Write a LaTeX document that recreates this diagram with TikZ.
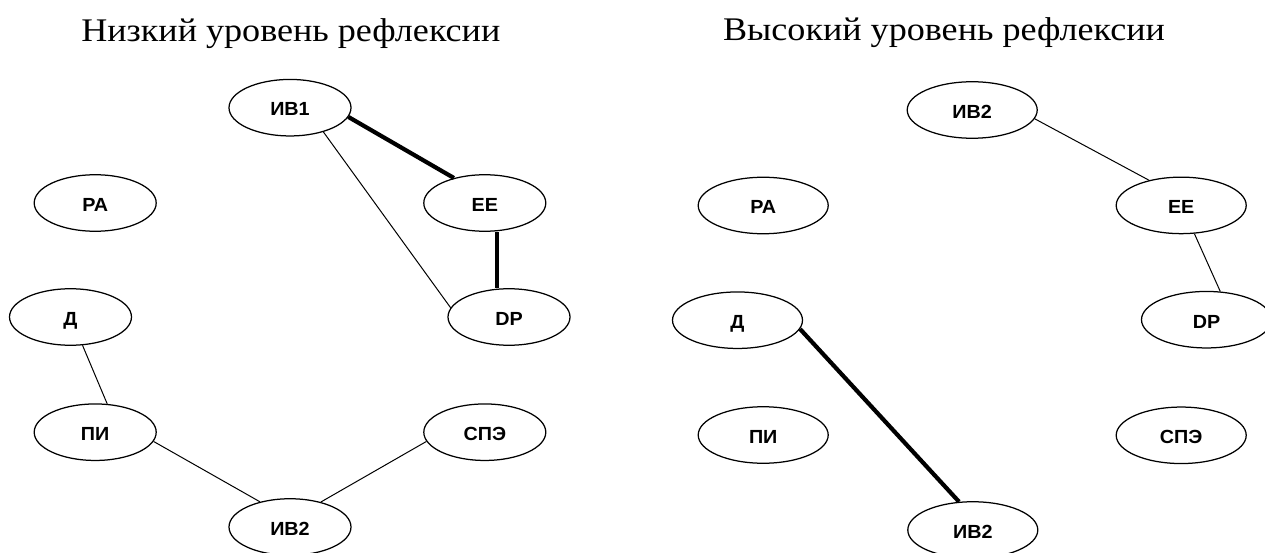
\documentclass[tikz,border=0pt]{standalone}
\usepackage{fontspec}
\setmainfont{Liberation Serif}
\newfontfamily\ttlfont{Liberation Serif}[FakeStretch=1.094]
\newfontfamily\nodefont{Liberation Sans}[FakeStretch=1.04]
\usetikzlibrary{shapes.geometric,calc}
\tikzset{
  ell/.style={ellipse, draw, line width=1.25pt, inner sep=0pt,
    minimum width=122pt, minimum height=56.5pt,
    text height=16.6pt, text depth=0pt,
    font=\nodefont\bfseries\fontsize{19}{23}\selectfont},
  ellR/.style={ell, minimum width=130pt},
  thin/.style={line width=1pt},
  heavy/.style={line width=4.2pt},
  ttl/.style={anchor=base, inner sep=0pt, font=\ttlfont\fontsize{33}{40}\selectfont}
}
\begin{document}
\begin{tikzpicture}[x=1pt,y=-1pt]
\useasboundingbox (0,0) rectangle (1265,553);
% titles
\node[ttl] (t1) at (290.8,41.7) {Низкий уровень рефлексии};
\node[ttl] (t2) at (944,40.9) {Высокий уровень рефлексии};
% left panel
\node[ell] (aiv1) at (290,107.7) {ИВ1};
\node[ell] (ara)  at (95.2,203) {РА};
\node[ell] (aee)  at (484.8,203) {ЕЕ};
\node[ell] (ad)   at (70.5,317) {Д};
\node[ell] (adp)  at (509,317) {DP};
\node[ell] (api)  at (95.2,432.2) {ПИ};
\node[ell] (aspe) at (484.8,432.2) {СПЭ};
\node[ell] (aiv2) at (290,527) {ИВ2};
\coordinate (am) at ($(aee)!0.5!(adp)$);
\draw[heavy] (aiv1.-9.7) -- (aee.141);
\draw[thin] (aiv1.-36) -- (adp.171.8);
\draw[heavy] (aee.south -| am) -- (adp.north -| am);
\draw[thin] (ad.-67) -- (api.67.3);
\draw[thin] (api.-9.8) -- (aiv2.140);
\draw[thin] (aspe.-171) -- (aiv2.39.3);
% right panel
\node[ellR] (biv2t) at (972.2,110) {ИВ2};
\node[ellR] (bra)   at (763.2,205.5) {РА};
\node[ellR] (bee)   at (1181.2,205.4) {ЕЕ};
\node[ellR] (bd)    at (737.5,320.2) {Д};
\node[ellR] (bdp)   at (1206.5,319.7) {DP};
\node[ellR] (bpi)   at (763.2,435) {ПИ};
\node[ellR] (bspe)  at (1181.2,435.3) {СПЭ};
\node[ellR] (biv2b) at (972.8,530) {ИВ2};
\draw[thin] (biv2t.-8.7) -- (bee.142.2);
\draw[thin] (bee.-65.4) -- (bdp.64.8);
\draw[heavy] (bd.-8.8) -- (biv2b.116.8);
\end{tikzpicture}
\end{document}
